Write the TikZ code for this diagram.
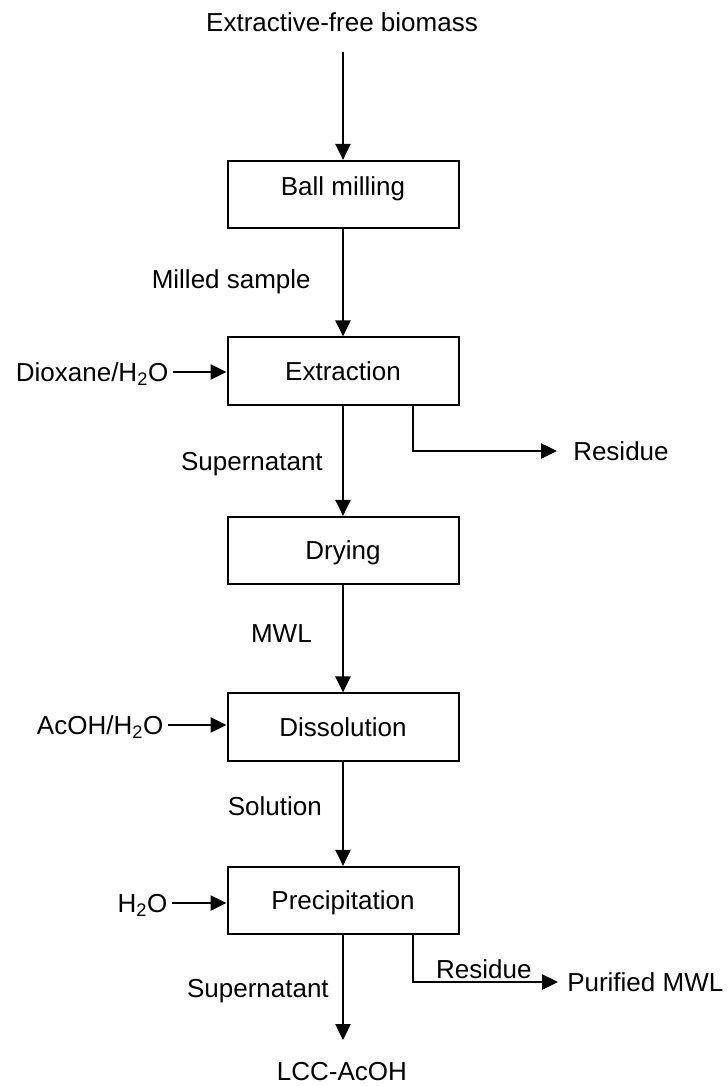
\documentclass[tikz,border=0pt]{standalone}
\usepackage{fontspec}
\setmainfont{Liberation Sans}
\usetikzlibrary{arrows.meta}
\begin{document}
\begin{tikzpicture}[x=0.75pt,y=-0.75pt,
  every node/.style={font=\fontsize{19.5pt}{23pt}\selectfont},
  stepbox/.style={draw,line width=1.5pt,minimum width=173.25pt,minimum height=50.5pt,inner sep=0pt,text height=14pt,text depth=0pt},
  arr/.style={line width=1pt,-{Triangle[length=12pt,width=11.5pt]}},
  lbl/.style={anchor=base east,inner sep=0pt},
  inp/.style={anchor=east,text height=14pt,text depth=0pt},
  outp/.style={anchor=west,inner sep=0pt,text height=14pt,text depth=0pt},
]
\useasboundingbox (0,0) rectangle (728,1086);

% process boxes
\node[stepbox] (ball) at (343,194.5) {\raisebox{6pt}{Ball milling}};
\node[stepbox] (extr) at (343,371) {Extraction};
\node[stepbox] (dry)  at (343,550.5) {Drying};
\node[stepbox] (diss) at (343,727) {Dissolution};
\node[stepbox] (prec) at (343,900.5) {Precipitation};

% top and bottom texts
\node[anchor=base] (src) at (342,31) {Extractive-free biomass};
\coordinate (c0) at (343,52);
\node[anchor=base] (lcc) at (342,1080) {LCC-AcOH};
\coordinate (c1) at (343,1040);

% stream labels
\node[lbl] (milled) at (311,288) {Milled sample};
\node[lbl] (sup1) at (323,470) {Supernatant};
\node[lbl] (mwl) at (312,642) {MWL};
\node[lbl] (sol) at (322,815) {Solution};
\node[lbl] (sup2) at (329,997) {Supernatant};

% inputs
\node[inp] (diox) at (173,372) {Dioxane/H\textsubscript{2}O};
\node[inp] (acoh) at (168,725) {AcOH/H\textsubscript{2}O};
\node[inp] (water) at (172,903) {H\textsubscript{2}O};

% outputs
\node[outp] (res1) at (573,451) {Residue};
\node[outp] (pur) at (567,982) {Purified MWL};

% main flow
\draw[arr] (c0) -- (ball);
\draw[arr] (ball) -- (extr);
\draw[arr] (extr) -- (dry);
\draw[arr] (dry) -- (diss);
\draw[arr] (diss) -- (prec);
\draw[arr] (prec) -- (c1);

% input arrows
\draw[arr] (diox.east) -- (diox.east -| extr.west);
\draw[arr] (acoh.east) -- (acoh.east -| diss.west);
\draw[arr] (water.east) -- (water.east -| prec.west);

% side branches
\draw[arr,shorten >=12pt] ([xshift=52.5pt]extr.south) |- (res1.west);
\draw[arr,shorten >=6.75pt] ([xshift=52.5pt]prec.south) |- node[pos=0.73,above,inner sep=2pt] (res2) {Residue} (pur.west);
\end{tikzpicture}
\end{document}
